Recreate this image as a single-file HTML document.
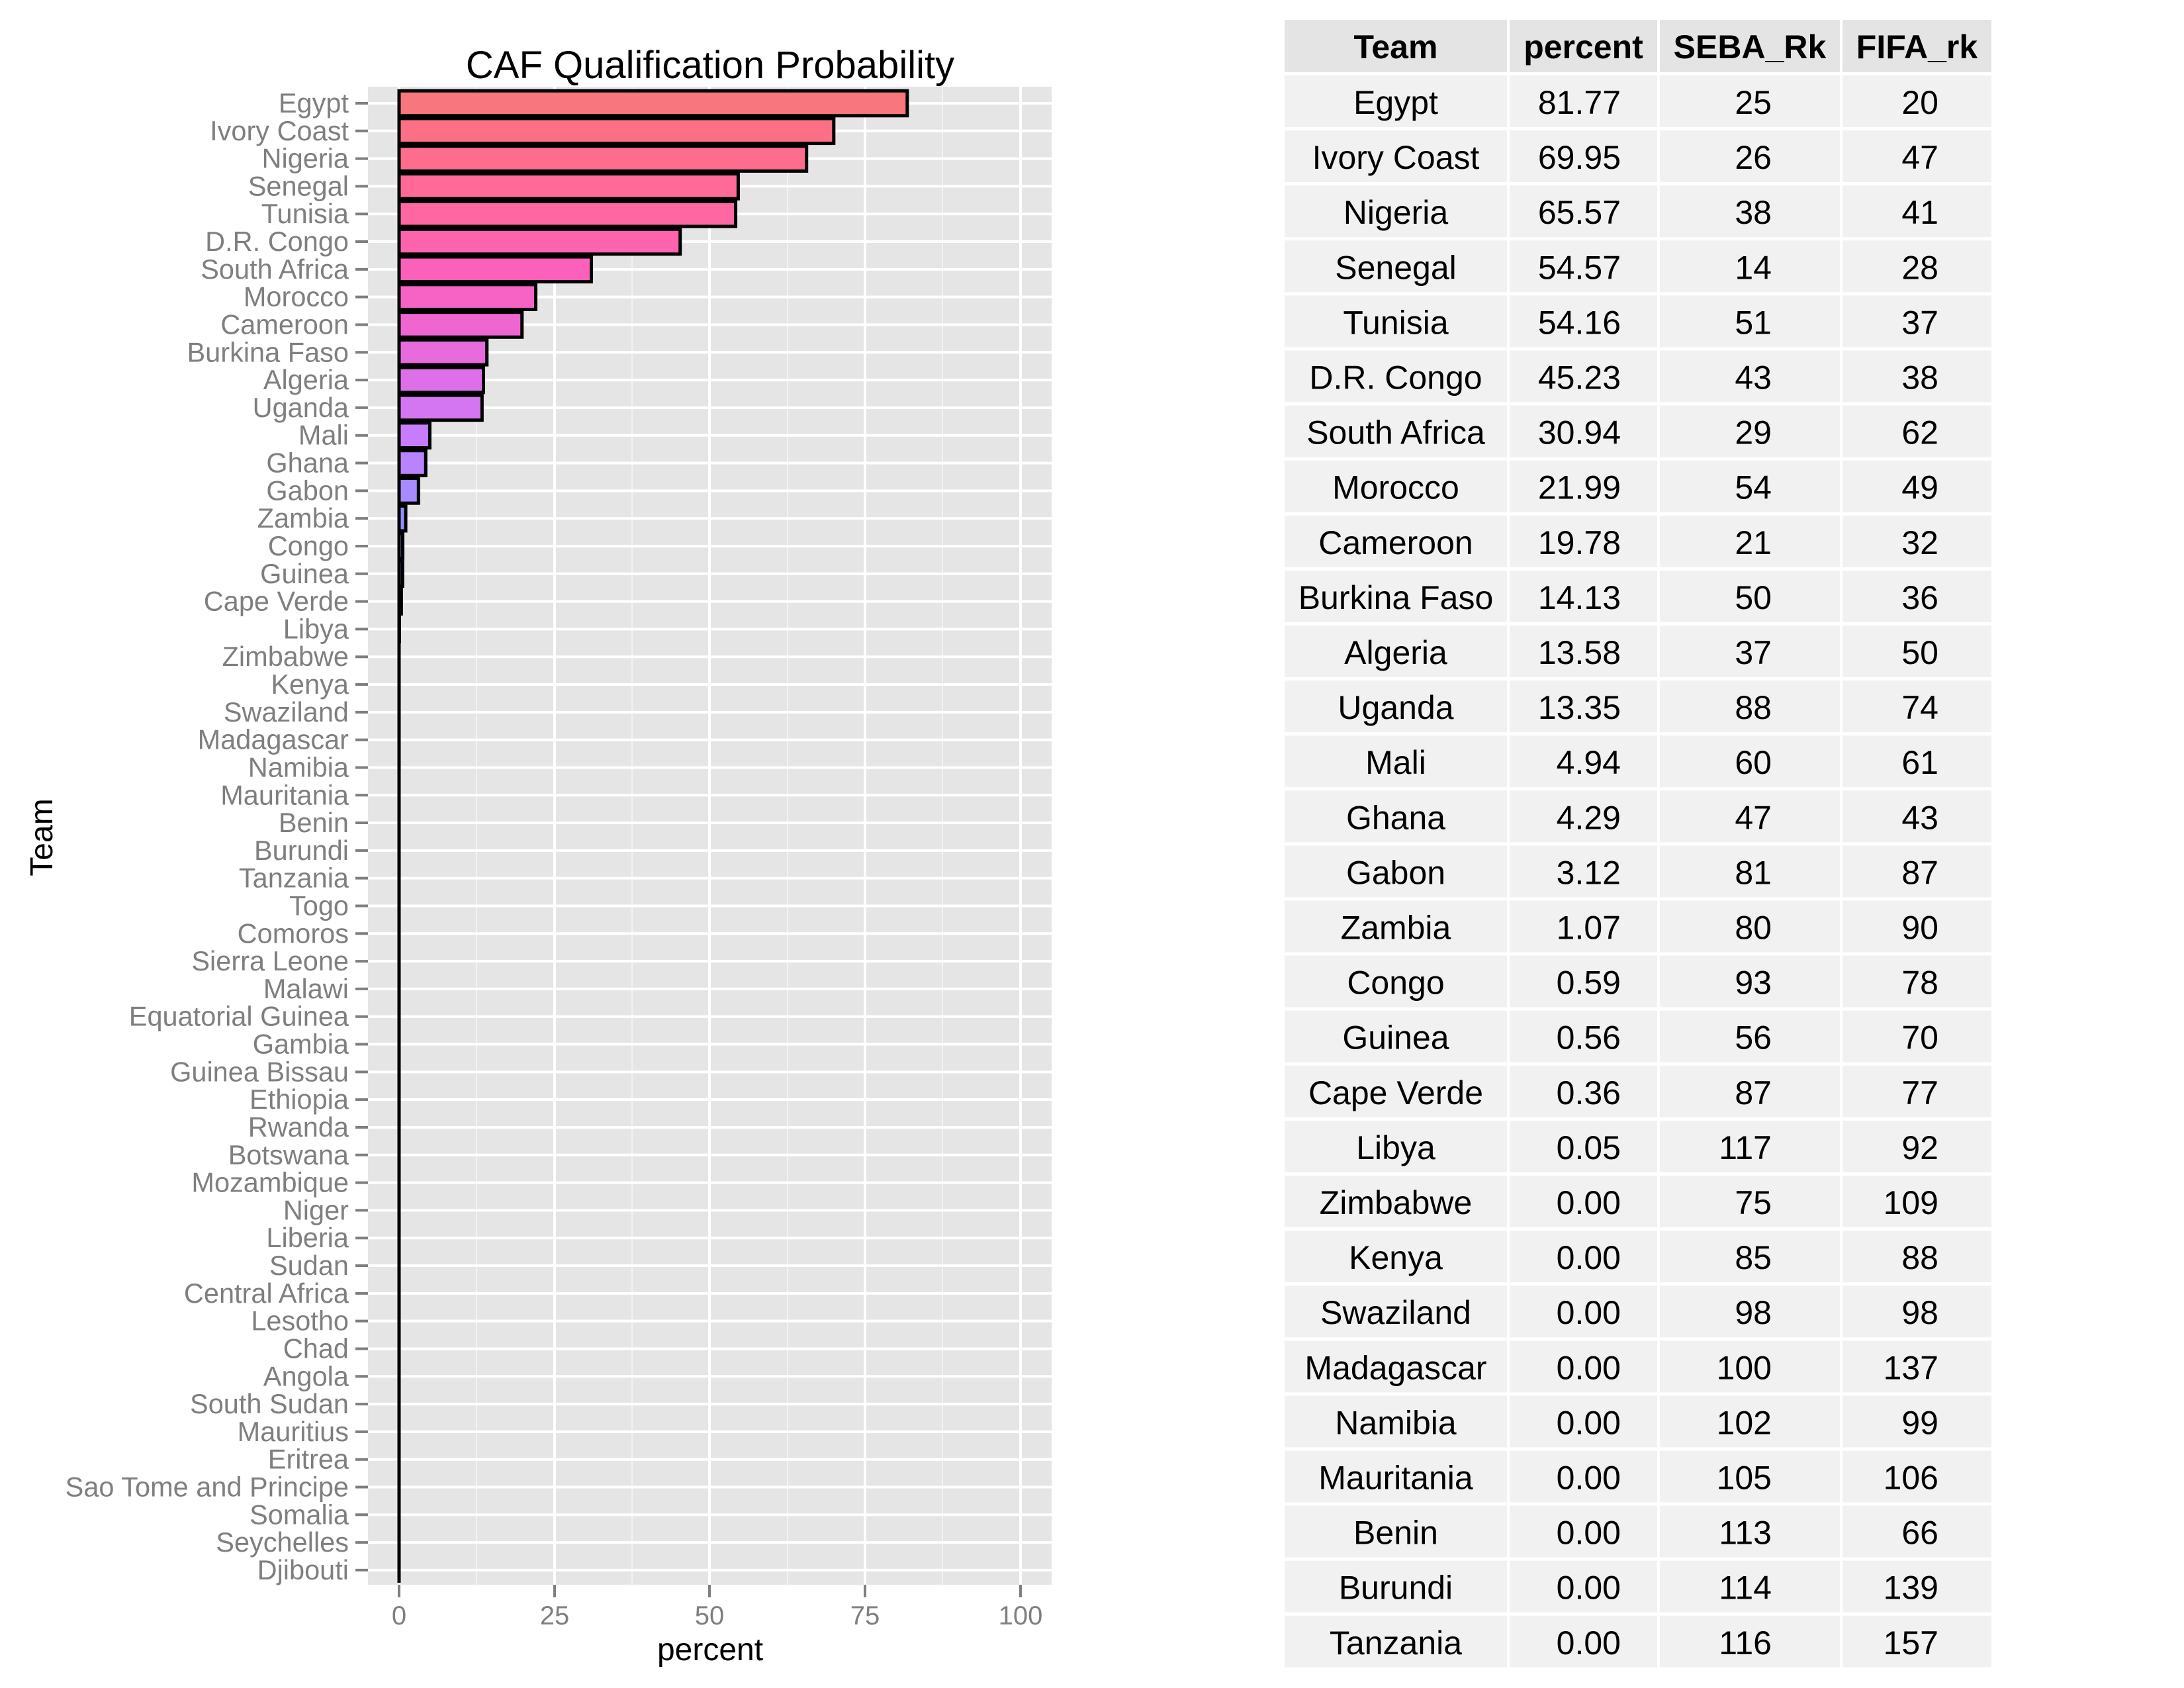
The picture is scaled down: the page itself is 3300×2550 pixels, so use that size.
<!DOCTYPE html>
<html><head><meta charset="utf-8"><style>
html,body{margin:0;padding:0;background:#fff;}
svg{display:block;}
text{font-family:"Liberation Sans",sans-serif;}
</style></head><body>
<svg id="s" width="3300" height="2550" viewBox="0 0 3300 2550" xmlns="http://www.w3.org/2000/svg">
<rect width="3300" height="2550" fill="#fff"/>
<text x="1073" y="118" font-size="58" text-anchor="middle" fill="#000">CAF Qualification Probability</text>
<rect x="556" y="131" width="1033" height="2263" fill="#E5E5E5"/>
<g stroke="#F2F2F2" stroke-width="2">
<line x1="720" y1="131" x2="720" y2="2394"/><line x1="955" y1="131" x2="955" y2="2394"/><line x1="1190" y1="131" x2="1190" y2="2394"/><line x1="1424" y1="131" x2="1424" y2="2394"/>
</g>
<g stroke="#fff" stroke-width="4">
<line x1="603" y1="131" x2="603" y2="2394"/><line x1="838" y1="131" x2="838" y2="2394"/><line x1="1072" y1="131" x2="1072" y2="2394"/><line x1="1307" y1="131" x2="1307" y2="2394"/><line x1="1542" y1="131" x2="1542" y2="2394"/>
</g>
<g id="rows"></g>
<text x="63" y="1265" font-size="48" fill="#000" text-anchor="middle" transform="rotate(-90 63 1265)" dy="16">Team</text>
<g fill="#7F7F7F" font-size="40" text-anchor="middle">
<text x="603" y="2454">0</text><text x="838" y="2454">25</text><text x="1072" y="2454">50</text><text x="1307" y="2454">75</text><text x="1542" y="2454">100</text>
</g>
<g stroke="#7F7F7F" stroke-width="4">
<line x1="603" y1="2394" x2="603" y2="2413"/><line x1="838" y1="2394" x2="838" y2="2413"/><line x1="1072" y1="2394" x2="1072" y2="2413"/><line x1="1307" y1="2394" x2="1307" y2="2413"/><line x1="1542" y1="2394" x2="1542" y2="2413"/>
</g>
<text x="1073" y="2508" font-size="48" text-anchor="middle" fill="#000">percent</text>
<g id="tbl"></g>
</svg>
<script>
(function(){
var teams=["Egypt","Ivory Coast","Nigeria","Senegal","Tunisia","D.R. Congo","South Africa","Morocco","Cameroon","Burkina Faso","Algeria","Uganda","Mali","Ghana","Gabon","Zambia","Congo","Guinea","Cape Verde","Libya","Zimbabwe","Kenya","Swaziland","Madagascar","Namibia","Mauritania","Benin","Burundi","Tanzania","Togo","Comoros","Sierra Leone","Malawi","Equatorial Guinea","Gambia","Guinea Bissau","Ethiopia","Rwanda","Botswana","Mozambique","Niger","Liberia","Sudan","Central Africa","Lesotho","Chad","Angola","South Sudan","Mauritius","Eritrea","Sao Tome and Principe","Somalia","Seychelles","Djibouti"];
var pct=[81.77,69.95,65.57,54.57,54.16,45.23,30.94,21.99,19.78,14.13,13.58,13.35,4.94,4.29,3.12,1.07,0.59,0.56,0.36,0.05];
var cols=["#F8767D","#FC7085","#FE6C8E","#FF6A98","#FF67A3","#FE63AE","#FB61BA","#F763C5","#F066D0","#E76BDD","#DD70E8","#D476F2","#C77CFF","#B983FF","#A78AFF","#8F91FF","#7F96FF","#6F9BFF","#60A0FF","#50A5FF"];
var seba=[25,26,38,14,51,43,29,54,21,50,37,88,60,47,81,80,93,56,87,117,75,85,98,100,102,105,113,114,116];
var fifa=[20,47,41,28,37,38,62,49,32,36,50,74,61,43,87,90,78,70,77,92,109,88,98,137,99,106,66,139,157];
var h="";
var x0=603,k=9.39,p=41.81,i,y;
for(i=0;i<54;i++){y=156+i*p;h+='<line x1="556" y1="'+y+'" x2="1589" y2="'+y+'" stroke="#fff" stroke-width="4"/>';}
for(i=0;i<54;i++){y=156+i*p;h+='<line x1="537" y1="'+y+'" x2="556" y2="'+y+'" stroke="#7F7F7F" stroke-width="4"/><text x="527" y="'+(y+14)+'" font-size="41.5" fill="#7F7F7F" text-anchor="end">'+teams[i]+'</text>';}
for(i=0;i<20;i++){y=156+i*p;var w=pct[i]*k;h+='<rect x="'+x0+'" y="'+(y-18.8)+'" width="'+w+'" height="37.6" fill="'+cols[i]+'" stroke="#000" stroke-width="5"/>';}
h+='<line x1="603" y1="136" x2="603" y2="2391" stroke="#000" stroke-width="5"/>';
document.getElementById("rows").innerHTML=h;
var t="",cx=[[1941,2277],[2281,2504],[2508,2780],[2784,3009]],c,r;
for(c=0;c<4;c++){t+='<rect x="'+cx[c][0]+'" y="30" width="'+(cx[c][1]-cx[c][0])+'" height="79" fill="#E4E4E4"/>';}
var hd=["Team","percent","SEBA_Rk","FIFA_rk"];
for(c=0;c<4;c++){t+='<text x="'+(cx[c][0]+cx[c][1])/2+'" y="88" font-size="50" font-weight="bold" text-anchor="middle">'+hd[c]+'</text>';}
for(r=0;r<29;r++){var ty=114+r*83.1;
 for(c=0;c<4;c++){t+='<rect x="'+cx[c][0]+'" y="'+ty+'" width="'+(cx[c][1]-cx[c][0])+'" height="78" fill="#F1F1F1"/>';}
 var b=ty+58;
 t+='<text x="2109" y="'+b+'" font-size="50" text-anchor="middle">'+teams[r]+'</text>';
 var pv=(r<20?pct[r]:0).toFixed(2);
 t+='<text x="2449" y="'+b+'" font-size="50" text-anchor="end">'+pv+'</text>';
 t+='<text x="2677" y="'+b+'" font-size="50" text-anchor="end">'+seba[r]+'</text>';
 t+='<text x="2929" y="'+b+'" font-size="50" text-anchor="end">'+fifa[r]+'</text>';
}
document.getElementById("tbl").innerHTML=t;
})();
</script>
</body></html>
